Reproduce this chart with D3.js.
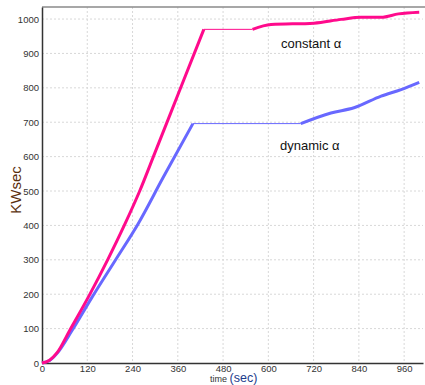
<!DOCTYPE html>
<html>
<head>
<meta charset="utf-8">
<script src="https://cdn.jsdelivr.net/npm/d3@7"></script>
<style>
  body { margin: 0; background: #fff; }
  text { font-family: "Liberation Sans", Arial, sans-serif; }
</style>
</head>
<body>
<script>
// Tick values
const xTicks = [0, 120, 240, 360, 480, 600, 720, 840, 960];
const yTicks = [0, 100, 200, 300, 400, 500, 600, 700, 800, 900, 1000];

// constant alpha series: [time, KWsec]
const constantRise = [[0, 0], [20, 8], [40, 30], [73, 94], [126, 198], [175, 302], [219, 402], [259, 500], [300, 613], [360, 779], [429, 970]];
const constantFlat = [[429, 970], [558, 970]];
const constantTail = [[558, 970], [607, 984], [721, 988], [793, 999], [846, 1005], [899, 1005], [945, 1015], [1000, 1020]];

// dynamic alpha series
const dynamicRise = [[0, 0], [20, 7], [40, 28], [80, 95], [132, 190], [194, 298], [255, 405], [320, 537], [400, 696]];
const dynamicFlat = [[400, 696], [686, 696]];
const dynamicTail = [[686, 696], [766, 727], [827, 742], [899, 776], [952, 795], [1000, 816]];

let width = 425, height = 385;
let margin = { top: 7, bottom: 22, left: 42, right: 2 };

let svg = d3.select('body')
            .append('svg')
            .attr('width', width)
            .attr('height', height);

const x = d3.scaleLinear()
    .domain([0, 1010])
    .range([margin.left, width - margin.right]);

const y = d3.scaleLinear()
    .domain([0, 1035])
    .range([height - margin.bottom, margin.top]);

// grid
svg.append("g")
   .selectAll("line")
   .data(xTicks.slice(1))
   .enter()
   .append("line")
   .attr("x1", d => x(d)).attr("x2", d => x(d))
   .attr("y1", margin.top).attr("y2", height - margin.bottom)
   .attr("stroke", "#d8d8d8")
   .attr("stroke-dasharray", "2,2");

svg.append("g")
   .selectAll("line")
   .data(yTicks.slice(1))
   .enter()
   .append("line")
   .attr("x1", margin.left).attr("x2", width - margin.right)
   .attr("y1", d => y(d)).attr("y2", d => y(d))
   .attr("stroke", "#d8d8d8")
   .attr("stroke-dasharray", "2,2");

// top border
svg.append("line")
   .attr("x1", margin.left).attr("x2", width)
   .attr("y1", margin.top).attr("y2", margin.top)
   .attr("stroke", "#8a8a8a")
   .attr("stroke-width", 1.5);

// axes
const xAxis = svg.append("g")
   .attr("transform", `translate(0,${height - margin.bottom})`)
   .call(d3.axisBottom(x).tickValues(xTicks).tickSize(0).tickPadding(2).tickFormat(d3.format("d")));
xAxis.select(".domain").attr("stroke", "#333").attr("stroke-width", 1.5);
xAxis.selectAll("text").attr("font-size", 9.5).attr("fill", "#333")
     .attr("font-family", "'Liberation Sans', Arial, sans-serif");

const yAxis = svg.append("g")
   .attr("transform", `translate(${margin.left},0)`)
   .call(d3.axisLeft(y).tickValues(yTicks).tickSize(0).tickPadding(3).tickFormat(d3.format("d")));
yAxis.select(".domain").attr("stroke", "#333").attr("stroke-width", 1.5);
yAxis.selectAll("text").attr("font-size", 9.5).attr("fill", "#333")
     .attr("font-family", "'Liberation Sans', Arial, sans-serif");

// axis labels
const xl = svg.append('text')
   .attr('x', 210)
   .attr('y', 381.5);
xl.append('tspan').text('time ').attr('font-size', 9).attr('fill', '#333');
xl.append('tspan').text('(sec)').attr('font-size', 12.5).attr('fill', '#1c3c8c');

svg.append('text')
   .attr('transform', 'translate(21,190) rotate(-90)')
   .attr('text-anchor', 'middle')
   .attr('font-size', 15)
   .attr('fill', '#5a300e')
   .text('KWsec');

// lines
const line = d3.line()
    .x(d => x(d[0]))
    .y(d => y(d[1]))
    .curve(d3.curveMonotoneX);

const pink = "#ff0a8c", blue = "#6868ff";

function drawLine(data, color, w) {
    svg.append("path")
       .datum(data)
       .attr("fill", "none")
       .attr("stroke", color)
       .attr("stroke-width", w)
       .attr("stroke-linejoin", "round")
       .attr("d", line);
}

drawLine(dynamicFlat, blue, 1);
drawLine(dynamicRise, blue, 3);
drawLine(dynamicTail, blue, 3);
drawLine(constantFlat, pink, 1);
drawLine(constantRise, pink, 3);
drawLine(constantTail, pink, 3);

// annotations
svg.append('text')
   .attr('x', 281).attr('y', 48)
   .attr('font-size', 13).attr('fill', '#111')
   .text('constant α');

svg.append('text')
   .attr('x', 280).attr('y', 150)
   .attr('font-size', 13).attr('fill', '#111')
   .text('dynamic α');
</script>
</body>
</html>
